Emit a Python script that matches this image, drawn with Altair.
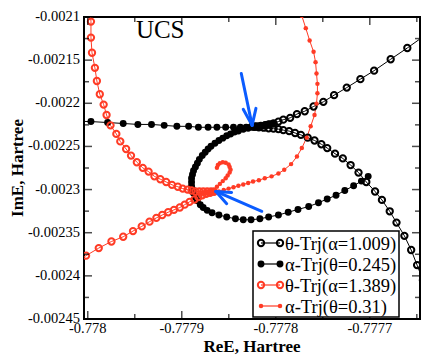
import altair as alt
import pandas as pd

# ---------------- data ----------------
names = ["θ-Trj(α=1.009)", "α-Trj(θ=0.245)", "θ-Trj(α=1.389)", "α-Trj(θ=0.31)"]

# theta trajectory, alpha = 1.009 (black open circles)
a_x = [-0.7776404, -0.7776601, -0.7776778, -0.7776954, -0.7777100, -0.7777245, -0.7777380,
       -0.7777494, -0.7777598, -0.7777692, -0.7777775, -0.7777847, -0.7777920, -0.7777972,
       -0.7778024, -0.7778076, -0.7778117, -0.7778159, -0.7778200, -0.7778232, -0.7778252,
       -0.7778221, -0.7778180, -0.7778128, -0.7778076, -0.7778024, -0.7777972, -0.7777920,
       -0.7777858, -0.7777795, -0.7777733, -0.7777660, -0.7777588, -0.7777515, -0.7777453,
       -0.7777370, -0.7777287, -0.7777204, -0.7777120, -0.7777037, -0.7776944, -0.7776871,
       -0.7776788, -0.7776716, -0.7776632, -0.7776560, -0.7776497, -0.7776435]
a_y = [-0.0021206, -0.0021359, -0.0021490, -0.0021622, -0.0021720, -0.0021818, -0.0021906,
       -0.0021983, -0.0022037, -0.0022092, -0.0022125, -0.0022169, -0.0022190, -0.0022212,
       -0.0022234, -0.0022245, -0.0022256, -0.0022262, -0.0022267, -0.0022267, -0.0022267,
       -0.0022273, -0.0022278, -0.0022283, -0.0022289, -0.0022294, -0.0022300, -0.0022311,
       -0.0022322, -0.0022344, -0.0022366, -0.0022398, -0.0022431, -0.0022475, -0.0022519,
       -0.0022584, -0.0022639, -0.0022716, -0.0022803, -0.0022912, -0.0023022, -0.0023120,
       -0.0023252, -0.0023383, -0.0023536, -0.0023700, -0.0023875, -0.0024050]

# alpha trajectory, theta = 0.245 (black filled circles)
b_x = [-0.7780153, -0.7779966, -0.7779789, -0.7779623, -0.7779467, -0.7779322, -0.7779187,
       -0.7779052, -0.7778927, -0.7778823, -0.7778720, -0.7778626, -0.7778533, -0.7778450,
       -0.7778377, -0.7778315, -0.7778263, -0.7778211, -0.7778159, -0.7778107, -0.7778065,
       -0.7778034, -0.7778086, -0.7778138, -0.7778190, -0.7778242, -0.7778294, -0.7778346,
       -0.7778398, -0.7778439, -0.7778481, -0.7778522, -0.7778564, -0.7778605, -0.7778647,
       -0.7778689, -0.7778720, -0.7778751, -0.7778782, -0.7778813, -0.7778834, -0.7778855,
       -0.7778875, -0.7778886, -0.7778896, -0.7778896, -0.7778896, -0.7778886, -0.7778875,
       -0.7778855, -0.7778834, -0.7778803, -0.7778772, -0.7778730, -0.7778678, -0.7778605,
       -0.7778522, -0.7778429, -0.7778346, -0.7778263, -0.7778169, -0.7778076, -0.7777972,
       -0.7777868, -0.7777764, -0.7777650, -0.7777546, -0.7777453, -0.7777359, -0.7777266,
       -0.7777172, -0.7777089, -0.7777017]
b_y = [-0.0022207, -0.0022212, -0.0022223, -0.0022234, -0.0022245, -0.0022245, -0.0022256,
       -0.0022267, -0.0022267, -0.0022278, -0.0022278, -0.0022278, -0.0022278, -0.0022278,
       -0.0022278, -0.0022278, -0.0022273, -0.0022267, -0.0022256, -0.0022245, -0.0022240,
       -0.0022234, -0.0022251, -0.0022256, -0.0022267, -0.0022278, -0.0022289, -0.0022300,
       -0.0022322, -0.0022333, -0.0022355, -0.0022376, -0.0022404, -0.0022431, -0.0022464,
       -0.0022497, -0.0022530, -0.0022568, -0.0022606, -0.0022650, -0.0022694, -0.0022737,
       -0.0022781, -0.0022825, -0.0022869, -0.0022912, -0.0022956, -0.0023000, -0.0023044,
       -0.0023088, -0.0023131, -0.0023175, -0.0023208, -0.0023241, -0.0023268, -0.0023295,
       -0.0023317, -0.0023339, -0.0023350, -0.0023350, -0.0023339, -0.0023317, -0.0023295,
       -0.0023263, -0.0023230, -0.0023197, -0.0023153, -0.0023109, -0.0023066, -0.0023011,
       -0.0022956, -0.0022902, -0.0022847]

# theta trajectory, alpha = 1.389 (red open circles)
c_x = [-0.7779976, -0.7779966, -0.7779966, -0.7779955, -0.7779924, -0.7779903, -0.7779872,
       -0.7779831, -0.7779800, -0.7779758, -0.7779696, -0.7779654, -0.7779592, -0.7779540,
       -0.7779478, -0.7779415, -0.7779353, -0.7779291, -0.7779228, -0.7779166, -0.7779104,
       -0.7779042, -0.7778990, -0.7778938, -0.7778896, -0.7778855, -0.7778813, -0.7778772,
       -0.7778730, -0.7778689, -0.7778657, -0.7778699, -0.7778740, -0.7778782, -0.7778823,
       -0.7778865, -0.7778917, -0.7778969, -0.7779021, -0.7779083, -0.7779145, -0.7779208,
       -0.7779270, -0.7779343, -0.7779426, -0.7779519, -0.7779623, -0.7779748, -0.7779883,
       -0.7780018, -0.7780153]
c_y = [-0.0020867, -0.0021053, -0.0021239, -0.0021414, -0.0021589, -0.0021742, -0.0021895,
       -0.0022015, -0.0022136, -0.0022256, -0.0022355, -0.0022442, -0.0022530, -0.0022606,
       -0.0022683, -0.0022748, -0.0022792, -0.0022847, -0.0022880, -0.0022912, -0.0022945,
       -0.0022967, -0.0022989, -0.0023000, -0.0023011, -0.0023022, -0.0023022, -0.0023022,
       -0.0023022, -0.0023022, -0.0023027, -0.0023038, -0.0023049, -0.0023066, -0.0023088,
       -0.0023115, -0.0023142, -0.0023175, -0.0023208, -0.0023235, -0.0023263, -0.0023295,
       -0.0023328, -0.0023372, -0.0023427, -0.0023481, -0.0023547, -0.0023602, -0.0023678,
       -0.0023766, -0.0023842]

# alpha trajectory, theta = 0.31 (small red dots)
d_x = [-0.7777723, -0.7777681, -0.7777640, -0.7777598, -0.7777577, -0.7777567, -0.7777557,
       -0.7777557, -0.7777567, -0.7777588, -0.7777629, -0.7777671, -0.7777723, -0.7777775,
       -0.7777837, -0.7777910, -0.7777972, -0.7778045, -0.7778117, -0.7778180, -0.7778242,
       -0.7778294, -0.7778346, -0.7778398, -0.7778450, -0.7778502, -0.7778554, -0.7778605,
       -0.7778647, -0.7778678, -0.7778657, -0.7778626, -0.7778595, -0.7778564, -0.7778533,
       -0.7778512, -0.7778491, -0.7778481, -0.7778491, -0.7778502, -0.7778533, -0.7778564,
       -0.7778595, -0.7778616, -0.7778626]
d_y = [-0.0020987, -0.0021129, -0.0021272, -0.0021403, -0.0021523, -0.0021654, -0.0021775,
       -0.0021884, -0.0022004, -0.0022136, -0.0022267, -0.0022398, -0.0022519, -0.0022617,
       -0.0022705, -0.0022770, -0.0022814, -0.0022847, -0.0022869, -0.0022891, -0.0022907,
       -0.0022923, -0.0022940, -0.0022956, -0.0022973, -0.0022989, -0.0023005, -0.0023022,
       -0.0023033, -0.0023027, -0.0023000, -0.0022967, -0.0022934, -0.0022902, -0.0022869,
       -0.0022836, -0.0022803, -0.0022770, -0.0022737, -0.0022710, -0.0022688, -0.0022683,
       -0.0022694, -0.0022716, -0.0022748]

# blue arrows (start -> tip), three strokes each
arrow_x1 = [-0.7778367, -0.7778346, -0.7778211, -0.7778149, -0.7778470, -0.7778522]
arrow_y1 = [-0.0021654, -0.0022070, -0.0022059, -0.0023252, -0.0023033, -0.0023164]
arrow_x2 = [-0.7778252, -0.7778252, -0.7778252, -0.7778637, -0.7778637, -0.7778637]
arrow_y2 = [-0.0022256, -0.0022256, -0.0022256, -0.0023022, -0.0023022, -0.0023022]

label_text = ["UCS"]
label_x = [-0.7779488]
label_y = [-0.0021240]

x_major = [-0.778, -0.7779, -0.7778, -0.7777]
x_labels = ["-0.778", "-0.7779", "-0.7778", "-0.7777"]
x_minor = [-0.77795, -0.77785, -0.77775, -0.77765]
y_major = [-0.0021, -0.00215, -0.0022, -0.00225, -0.0023, -0.00235, -0.0024, -0.00245]
y_labels = ["-0.0021", "-0.00215", "-0.0022", "-0.00225", "-0.0023", "-0.00235", "-0.0024", "-0.00245"]
y_minor = [-0.002125, -0.002175, -0.002225, -0.002275, -0.002325, -0.002375, -0.002425]
x_title = "ReE, Hartree"
y_title = "ImE, Hartree"

x_domain = [-0.7780040, -0.7776466]
y_domain = [-0.00245, -0.0021]

# ---------------- styling ----------------
RED = "#ff3b25"
BLUE = "#0b5cff"
SERIF = "Liberation Serif"
W, H = 336, 302

frames = []
for nm, xv, yv in zip(names, [a_x, b_x, c_x, d_x], [a_y, b_y, c_y, d_y]):
    frames.append(pd.DataFrame({"x": xv, "y": yv, "series": nm, "idx": list(range(len(xv)))}))
df = pd.concat(frames, ignore_index=True)

xs = alt.Scale(domain=x_domain, nice=False, zero=False)
ys = alt.Scale(domain=y_domain, nice=False, zero=False)

line_colors = ["black", "black", RED, RED]
lines = alt.Chart(df).mark_line(strokeWidth=1, clip=True).encode(
    x=alt.X("x:Q", scale=xs, axis=None),
    y=alt.Y("y:Q", scale=ys, axis=None),
    detail="series:N",
    order="idx:Q",
    color=alt.Color("series:N", scale=alt.Scale(domain=names, range=line_colors), legend=None),
)

def pts(name, **kw):
    return alt.Chart(df).transform_filter(alt.datum.series == name).mark_point(clip=True, **kw).encode(
        x=alt.X("x:Q", scale=xs, axis=None),
        y=alt.Y("y:Q", scale=ys, axis=None),
    )

styles = [
    dict(shape="circle", filled=False, color="black", strokeWidth=2, size=40, opacity=1),
    dict(shape="circle", filled=True, color="black", size=48, opacity=1),
    dict(shape="circle", filled=False, color=RED, strokeWidth=2, size=40, opacity=1),
    dict(shape="circle", filled=True, color=RED, size=20, opacity=1),
]
point_layers = [pts(nm, **st) for nm, st in zip(names, styles)]

arrows = alt.Chart(pd.DataFrame({"x1": arrow_x1, "y1": arrow_y1, "x2": arrow_x2, "y2": arrow_y2})).mark_rule(
    color=BLUE, strokeWidth=3, strokeCap="round").encode(
    x=alt.X("x1:Q", scale=xs, axis=None), y=alt.Y("y1:Q", scale=ys, axis=None),
    x2="x2:Q", y2="y2:Q")

ucs = alt.Chart(pd.DataFrame({"x": label_x, "y": label_y, "t": label_text})).mark_text(
    font=SERIF, fontSize=25, align="left", baseline="alphabetic", color="black").encode(
    x=alt.X("x:Q", scale=xs, axis=None), y=alt.Y("y:Q", scale=ys, axis=None), text="t:N")

def tick_layer(vals, ch, size, pos):
    d = pd.DataFrame({"v": vals})
    if ch == "x":
        return alt.Chart(d).mark_tick(orient="vertical", size=size, thickness=1.5, color="black").encode(
            x=alt.X("v:Q", scale=xs, axis=None), y=alt.value(pos))
    return alt.Chart(d).mark_tick(orient="horizontal", size=size, thickness=1.5, color="black").encode(
        y=alt.Y("v:Q", scale=ys, axis=None), x=alt.value(pos))

ticks = [
    tick_layer(x_major, "x", 8, H - 4), tick_layer(x_minor, "x", 5, H - 2.5),
    tick_layer(x_major, "x", 8, 4), tick_layer(x_minor, "x", 5, 2.5),
    tick_layer(y_major, "y", 8, 4), tick_layer(y_minor, "y", 5, 2.5),
    tick_layer(y_major, "y", 8, W - 4), tick_layer(y_minor, "y", 5, W - 2.5),
]

# tick labels and axis titles
x_tick_text = alt.Chart(pd.DataFrame({"v": x_major, "t": x_labels})).mark_text(
    font=SERIF, fontSize=14.5, align="center", baseline="middle", color="black").encode(
    x=alt.X("v:Q", scale=xs, axis=None), y=alt.value(H + 9.5), text="t:N")
y_tick_text = alt.Chart(pd.DataFrame({"v": y_major, "t": y_labels})).mark_text(
    font=SERIF, fontSize=14.5, align="right", baseline="middle", color="black").encode(
    y=alt.Y("v:Q", scale=ys, axis=None), x=alt.value(-4), text="t:N")
x_title_text = alt.Chart(pd.DataFrame({"t": [x_title]})).mark_text(
    font=SERIF, fontSize=17, fontWeight="bold", align="center", baseline="alphabetic", color="black").encode(
    x=alt.value(W / 2), y=alt.value(H + 33), text="t:N")
y_title_text = alt.Chart(pd.DataFrame({"t": [y_title]})).mark_text(
    font=SERIF, fontSize=17, fontWeight="bold", align="center", baseline="middle", angle=270,
    color="black").encode(
    x=alt.value(-66), y=alt.value(H / 2), text="t:N")

# ---------------- legend box (drawn in the plot, lower right) ----------------
LX0, LX1 = 169, 315
LY1 = H - 2
LY0 = LY1 - 86
legend_layers = [
    alt.Chart(pd.DataFrame({"series": names[:1]})).mark_rect(fill="white", stroke="black", strokeWidth=1.5).encode(
        x=alt.value(LX0), x2=alt.value(LX1), y=alt.value(LY0), y2=alt.value(LY1))
]
for i, (nm, st) in enumerate(zip(names, styles)):
    yy = LY0 + 12 + 21 * i
    row = pd.DataFrame({"series": [nm]})
    legend_layers.append(alt.Chart(row).mark_rule(color=line_colors[i], strokeWidth=1.2).encode(
        x=alt.value(LX0 + 8), x2=alt.value(LX0 + 27), y=alt.value(yy)))
    for px in (LX0 + 8, LX0 + 27):
        legend_layers.append(alt.Chart(row).mark_point(**st).encode(x=alt.value(px), y=alt.value(yy)))
    legend_layers.append(alt.Chart(row).mark_text(font=SERIF, fontSize=18.5, align="left", baseline="middle",
                                                  color="black").encode(
        x=alt.value(LX0 + 32), y=alt.value(yy + 1), text="series:N"))

chart = alt.layer(lines, *point_layers, arrows, ucs, *ticks, x_tick_text, y_tick_text,
                  x_title_text, y_title_text, *legend_layers).properties(
    width=W, height=H,
    autosize=alt.AutoSizeParams(type="none"),
    padding={"left": 76, "top": 9, "right": 1, "bottom": 37},
    background="white",
).configure_view(stroke="black", strokeWidth=2)

chart.save("out.html", embed_options={"renderer": "svg", "actions": False})
